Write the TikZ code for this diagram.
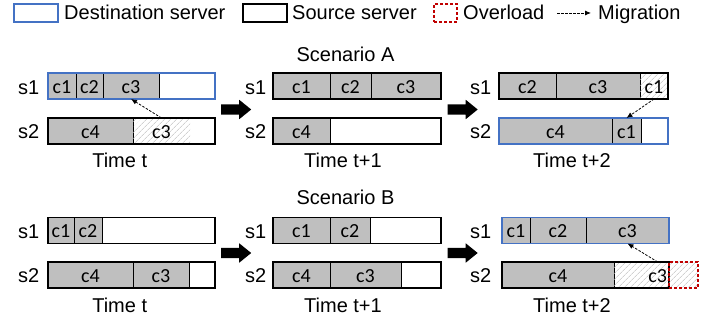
\documentclass[tikz,border=0pt]{standalone}
\usepackage{fontspec}
\setmainfont{Liberation Sans}
\newfontfamily\calfont{Carlito}
\usetikzlibrary{patterns.meta,arrows.meta,shapes.arrows}

\definecolor{cellgray}{HTML}{BFBFBF}
\definecolor{dstblue}{HTML}{4472C4}
\definecolor{ovred}{HTML}{C00000}

\tikzset{
  txt/.style={font=\fontsize{20}{24}\selectfont, inner sep=0pt},
  cellbase/.style={inner sep=0pt, outer sep=0pt, minimum height=26pt, anchor=west,
    font=\calfont\fontsize{20}{24}\selectfont, text height=15pt, text depth=0pt},
  used/.style={cellbase, draw=black, line width=0.9pt, fill=cellgray},
  moved/.style={cellbase, pattern={Lines[angle=45,distance=4pt,line width=0.6pt]}, pattern color=black!28},
  framebase/.style={inner sep=0pt, outer sep=0pt, minimum height=26pt, anchor=west, line width=1.8pt},
  srcframe/.style={framebase, draw=black},
  dstframe/.style={framebase, draw=dstblue},
  ovframe/.style={framebase, draw=ovred, dash pattern=on 3pt off 2pt, line width=1.6pt},
  migr/.style={-{Latex[length=6pt,width=5pt]}, dash pattern=on 2.5pt off 1.5pt, line width=0.8pt},
  bigarrow/.style={single arrow, fill=black, draw=none, inner sep=0pt, text height=10pt, text depth=0pt,
    text width=0pt, minimum height=30pt, minimum width=19pt, single arrow head extend=4.5pt,
    single arrow tip angle=78},
  slabel/.style={txt, anchor=base west},
}

% cell: name, left x, right x, centre y, style, text
\newcommand\cellnode[6]{\node[#5, minimum width={(#3)-(#2)}] (#1) at (#2,#4) {#6};}
% server frame: name, left x, right x, centre y, style
\newcommand\framenode[5]{\node[#5, minimum width={(#3)-(#2)}] (#1) at (#2,#4) {};}

\begin{document}
\begin{tikzpicture}[x=1pt,y=-1pt]
\useasboundingbox (0,0) rectangle (702,320);

% ---------- legend ----------
\framenode{legdst}{14}{58}{13}{dstframe, line width=1.3pt, minimum height=18pt}
\node[slabel] (legdsttxt) at (64,20) {Destination server};
\framenode{legsrc}{243}{287}{13}{srcframe, line width=1.3pt, minimum height=18pt}
\node[slabel] (legsrctxt) at (292,20) {Source server};
\framenode{legov}{434}{457}{13}{ovframe, line width=1.3pt, minimum height=18pt}
\node[slabel] (legovtxt) at (463,20) {Overload};
\coordinate (legm0) at (557,13);
\coordinate (legm1) at (591,13);
\draw[migr] (legm0) -- (legm1);
\node[slabel] (legmtxt) at (598,20) {Migration};

% ---------- scenario A ----------
\node[txt, anchor=base] (scA) at (345.5,62) {Scenario A};

% time t
\cellnode{a1c1}{48}{76}{86}{used}{c1}
\cellnode{a1c2}{76}{103}{86}{used}{c2}
\cellnode{a1c3}{103}{159}{86}{used}{c3}
\framenode{a1s1}{48}{215}{86}{dstframe}
\cellnode{a1c4}{48}{133}{131}{used}{c4}
\cellnode{a1m}{133}{190}{131}{moved}{c3}
\framenode{a1s2}{48}{215}{131}{srcframe}
\node[slabel] (a1l1) at (18,95) {s1};
\node[slabel] (a1l2) at (18,139) {s2};
\node[txt, anchor=base] (a1t) at (119.7,168) {Time t};
\draw[migr] (a1m.north) -- (a1c3.south);

\node[bigarrow] (aarr1) at (233,109.5) {};

% time t+1
\cellnode{a2c1}{273}{330}{86}{used}{c1}
\cellnode{a2c2}{330}{371}{86}{used}{c2}
\cellnode{a2c3}{371}{441}{86}{used}{c3}
\framenode{a2s1}{273}{441}{86}{srcframe}
\cellnode{a2c4}{273}{330}{131}{used}{c4}
\framenode{a2s2}{273}{441}{131}{srcframe}
\node[slabel] (a2l1) at (245,95) {s1};
\node[slabel] (a2l2) at (245,139) {s2};
\node[txt, anchor=base] (a2t) at (343,168) {Time t+1};

\node[bigarrow] (aarr2) at (459.5,109.5) {};

% time t+2
\cellnode{a3c2}{499}{556}{86}{used}{c2}
\cellnode{a3c3}{556}{640}{86}{used}{c3}
\cellnode{a3m}{640}{668}{86}{moved}{c1}
\framenode{a3s1}{499}{668}{86}{srcframe}
\cellnode{a3c4}{499}{612}{131}{used}{c4}
\cellnode{a3c1}{612}{641}{131}{used}{c1}
\framenode{a3s2}{499}{668}{131}{dstframe}
\node[slabel] (a3l1) at (470,95) {s1};
\node[slabel] (a3l2) at (470,139) {s2};
\node[txt, anchor=base] (a3t) at (572,168) {Time t+2};
\draw[migr] (a3m.south) -- (a3c1.north);

% ---------- scenario B ----------
\node[txt, anchor=base] (scB) at (345.5,205) {Scenario B};

% time t
\cellnode{b1c1}{48}{74}{230.5}{used}{c1}
\cellnode{b1c2}{74}{102}{230.5}{used}{c2}
\framenode{b1s1}{48}{215}{230.5}{srcframe}
\cellnode{b1c4}{48}{133}{275}{used}{c4}
\cellnode{b1c3}{133}{189}{275}{used}{c3}
\framenode{b1s2}{48}{215}{275}{srcframe}
\node[slabel] (b1l1) at (18,239) {s1};
\node[slabel] (b1l2) at (18,283) {s2};
\node[txt, anchor=base] (b1t) at (119.7,313) {Time t};

\node[bigarrow] (barr1) at (233,253) {};

% time t+1
\cellnode{b2c1}{273}{330}{230.5}{used}{c1}
\cellnode{b2c2}{330}{370}{230.5}{used}{c2}
\framenode{b2s1}{273}{441}{230.5}{srcframe}
\cellnode{b2c4}{273}{330}{275}{used}{c4}
\cellnode{b2c3}{330}{401}{275}{used}{c3}
\framenode{b2s2}{273}{441}{275}{srcframe}
\node[slabel] (b2l1) at (245,239) {s1};
\node[slabel] (b2l2) at (245,283) {s2};
\node[txt, anchor=base] (b2t) at (343,313) {Time t+1};

\node[bigarrow] (barr2) at (459.5,253) {};

% time t+2
\cellnode{b3c1}{502}{530}{230.5}{used}{c1}
\cellnode{b3c2}{530}{586}{230.5}{used}{c2}
\cellnode{b3c3}{586}{669}{230.5}{used}{c3}
\framenode{b3s1}{502}{669}{230.5}{dstframe}
\cellnode{b3c4}{502}{614}{275}{used}{c4}
\cellnode{b3m}{614}{669}{275}{moved}{}
\node[cellbase, anchor=east, minimum height=0pt] (b3ml) at (667,275) {c3};
\framenode{b3s2}{502}{669}{275}{srcframe}
\cellnode{b3ovf}{669}{698}{275}{moved}{}
\framenode{b3ov}{669}{698}{275}{ovframe}
\node[slabel] (b3l1) at (470,239) {s1};
\node[slabel] (b3l2) at (470,283) {s2};
\node[txt, anchor=base] (b3t) at (572,313) {Time t+2};
\draw[migr] (b3ml.center |- b3m.north) -- (b3c3.south);

\end{tikzpicture}
\end{document}
